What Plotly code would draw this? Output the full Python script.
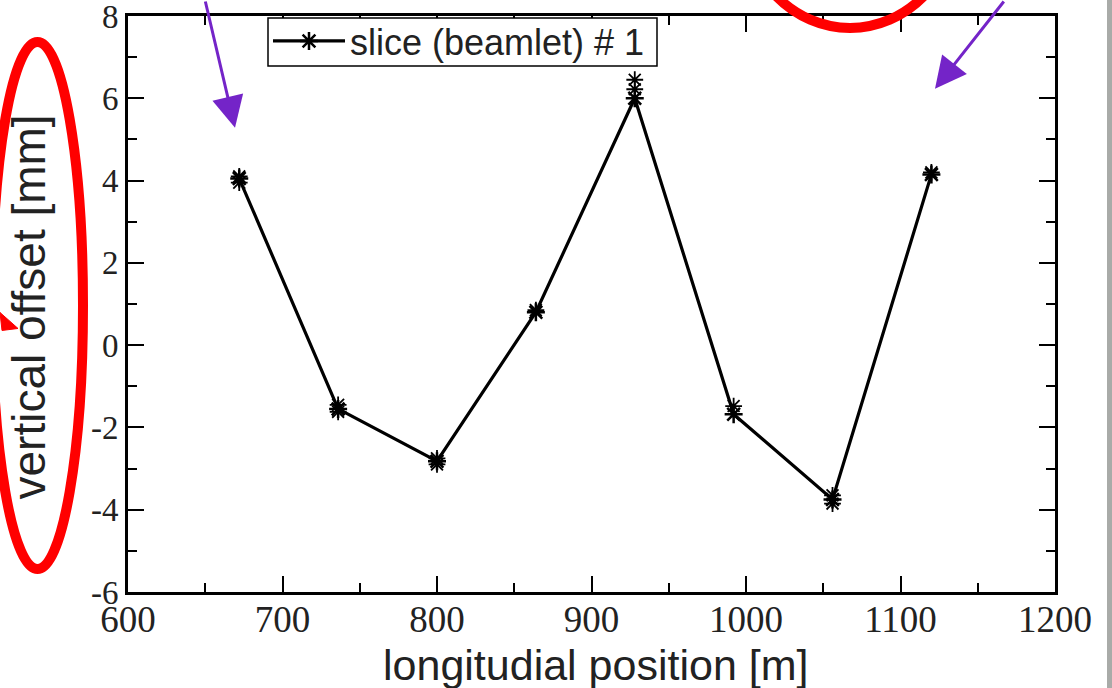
import plotly.graph_objects as go

# Data
position_m = [672, 736, 800, 864, 928, 992, 1056, 1120]
offset_mm = [4.05, -1.55, -2.82, 0.80, 6.00, -1.68, -3.75, 4.15]

# overlapping extra star markers (other slices sitting on top of each other)
extra_pos = [672, 672, 736, 736, 800, 800, 864, 928, 928, 992, 1056, 1056, 1120]
extra_off = [4.10, 3.95, -1.45, -1.62, -2.75, -2.90, 0.85, 6.45, 6.22, -1.48, -3.65, -3.85, 4.20]

x_ticks = [600, 700, 800, 900, 1000, 1100, 1200]
x_labels = ["600", "700", "800", "900", "1000", "1100", "1200"]
y_ticks = [-6, -4, -2, 0, 2, 4, 6, 8]
y_labels = ["-6", "-4", "-2", "0", "2", "4", "6", "8"]

W, H = 1112, 688
L, R, T, B = 128, 1055, 15, 592


def px(xp):
    return (xp - L) / (R - L)


def py(yp):
    return (B - yp) / (B - T)


fig = go.Figure()
fig.add_trace(go.Scatter(
    x=position_m, y=offset_mm, mode="lines+markers",
    name="slice (beamlet) # 1",
    line=dict(color="black", width=3.2),
    marker=dict(symbol="asterisk-open", size=15, color="black",
                line=dict(color="black", width=2.5)),
))
fig.add_trace(go.Scatter(
    x=extra_pos, y=extra_off, mode="markers", showlegend=False,
    marker=dict(symbol="asterisk-open", size=14, color="black",
                line=dict(color="black", width=1.8)),
))

axis_common = dict(
    showgrid=False, zeroline=False, showline=True, linecolor="black",
    linewidth=3, mirror="ticks", ticks="inside", tickcolor="black",
    tickwidth=2, ticklen=16, ticklabeloverflow="allow", automargin=False,
    minor=dict(ticks="inside", ticklen=9, tickwidth=2, tickcolor="black"),
)

fig.update_xaxes(range=[600, 1200], tickvals=x_ticks, ticktext=x_labels, minor_dtick=50,
                 tickfont=dict(family="Liberation Serif", size=37, color="#222"),
                 ticklabelstandoff=-7,
                 **axis_common)
fig.update_yaxes(range=[-6, 8], tickvals=y_ticks, ticktext=y_labels, minor_dtick=1,
                 tickfont=dict(family="Liberation Serif", size=33, color="#222"),
                 **axis_common)

shapes = [
    # grey strip on the right (slide background)
    dict(type="rect", xref="paper", yref="paper", x0=px(1107), x1=px(1120),
         y0=py(700), y1=py(-10), fillcolor="#a9aba8", line=dict(width=0), layer="below"),
    # red ellipse around y-axis title
    dict(type="circle", xref="paper", yref="paper", x0=px(-8), x1=px(83),
         y0=py(569), y1=py(41), line=dict(color="#ff0000", width=10)),
    # red ellipse at top
    dict(type="circle", xref="paper", yref="paper", x0=px(742), x1=px(958),
         y0=py(27), y1=py(-210), line=dict(color="#ff0000", width=10)),
    # small red arrowhead at left
    dict(type="path", xref="paper", yref="paper",
         path=f"M {px(0)},{py(312)} L {px(18)},{py(328)} L {px(2)},{py(330)} Z",
         fillcolor="#ff0000", line=dict(color="#ff0000", width=1)),
    # legend frame
    dict(type="rect", xref="paper", yref="paper", x0=px(268), x1=px(657),
         y0=py(65), y1=py(17), fillcolor="white", line=dict(color="black", width=1.5),
         layer="above"),
]

annotations = [
    # axis titles
    dict(xref="paper", yref="paper", x=px(29), y=py(307), xanchor="center", yanchor="middle",
         text="vertical offset [mm]", textangle=-90, showarrow=False,
         font=dict(family="Liberation Sans", size=46, color="#222")),
    dict(xref="paper", yref="paper", x=px(595), y=py(665), xanchor="center", yanchor="middle",
         text="longitudial position [m]", showarrow=False,
         font=dict(family="Liberation Sans", size=43, color="#222")),
    # purple arrows
    dict(xref="paper", yref="paper", x=px(235), y=py(127), ax=205 - 235, ay=-5 - 127,
         showarrow=True, arrowhead=2, arrowsize=2.1, arrowwidth=3,
         arrowcolor="#7424c8", text=""),
    dict(xref="paper", yref="paper", x=px(935), y=py(88), ax=1005 - 935, ay=-5 - 88,
         showarrow=True, arrowhead=2, arrowsize=2.1, arrowwidth=3,
         arrowcolor="#7424c8", text=""),
]

fig.update_layout(
    width=W, height=H,
    margin=dict(l=L, r=W - R, t=T, b=H - B),
    paper_bgcolor="white", plot_bgcolor="white",
    shapes=shapes, annotations=annotations,
    legend=dict(x=px(268), y=py(11), xanchor="left", yanchor="top",
                bgcolor="rgba(0,0,0,0)", borderwidth=0,
                font=dict(family="Liberation Sans", size=36, color="#222"),
                itemwidth=72, tracegroupgap=0),
    showlegend=True,
)

fig.write_html("out.html")
